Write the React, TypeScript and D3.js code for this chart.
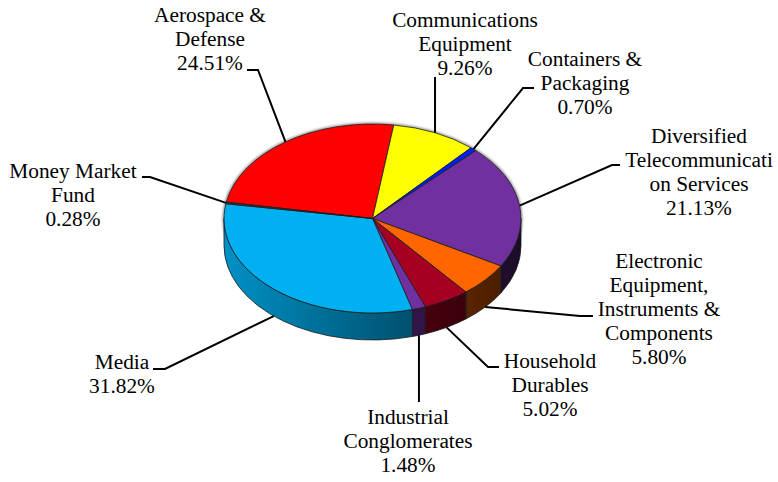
import React from "react";
import * as d3 from "d3";

const categories = [
  "Aerospace & Defense",
  "Communications Equipment",
  "Containers & Packaging",
  "Diversified Telecommunication Services",
  "Electronic Equipment, Instruments & Components",
  "Household Durables",
  "Industrial Conglomerates",
  "Media",
  "Money Market Fund",
];
const labelLines = [
  ["Aerospace &", "Defense"],
  ["Communications", "Equipment"],
  ["Containers &", "Packaging"],
  ["Diversified", "Telecommunicati", "on Services"],
  ["Electronic", "Equipment,", "Instruments &", "Components"],
  ["Household", "Durables"],
  ["Industrial", "Conglomerates"],
  ["Media"],
  ["Money Market", "Fund"],
];
const values = [24.51, 9.26, 0.7, 21.13, 5.8, 5.02, 1.48, 31.82, 0.28];
const colors = [
  "#FF0000",
  "#FFFF00",
  "#0020F0",
  "#7030A0",
  "#FF6600",
  "#A50021",
  "#7030A0",
  "#00B0F0",
  "#3A3A3A",
];

// layout (positions only)
const W = 778;
const H = 482;
const cx = 372.5;
const cy = 218.5;
const rx = 148.5;
const ry = 94.5;
const depth = 27;
const startDeg = 280;
const fontSize = 21.33;
const lineH = 24;
const FONT = '"Liberation Serif", "DejaVu Serif", "Times New Roman", Times, serif';

type LabelLayout = { x: number; y: number; elbow: number[][] | null; vert?: number };
const labelLayout: LabelLayout[] = [
  { x: 210, y: 22, elbow: [[247, 70], [258, 70]] },
  { x: 465, y: 27, elbow: null, vert: 77 },
  { x: 585, y: 66, elbow: [[534, 88], [523, 88]] },
  { x: 699, y: 143, elbow: [[620, 165], [612, 165]] },
  { x: 659, y: 268, elbow: [[593, 316], [580, 316]] },
  { x: 550, y: 368, elbow: [[499, 367], [488, 367]] },
  { x: 408, y: 424, elbow: null, vert: 402 },
  { x: 122, y: 369, elbow: [[153, 369], [165, 369]] },
  { x: 73, y: 178, elbow: [[142, 177], [150, 177]] },
];

const px = (a: number) => cx + rx * Math.sin(a);
const py = (a: number, dy = 0) => cy - ry * Math.cos(a) + dy;

function topPath(a0: number, a1: number) {
  const large = a1 - a0 > Math.PI ? 1 : 0;
  return `M${cx},${cy}L${px(a0)},${py(a0)}A${rx},${ry} 0 ${large} 1 ${px(a1)},${py(a1)}Z`;
}
function sidePath(a0: number, a1: number) {
  return (
    `M${px(a0)},${py(a0)}A${rx},${ry} 0 0 1 ${px(a1)},${py(a1)}` +
    `L${px(a1)},${py(a1, depth)}A${rx},${ry} 0 0 0 ${px(a0)},${py(a0, depth)}Z`
  );
}

export default function App() {
  const start = (startDeg * Math.PI) / 180;
  const pie = d3
    .pie<number>()
    .sort(null)
    .value((d) => d)
    .startAngle(start)
    .endAngle(start + 2 * Math.PI);
  const arcs = pie(values);
  const frontA = 2.5 * Math.PI;
  const frontB = 3.5 * Math.PI;
  const shade = (c: string, t: number) => d3.interpolateRgb(c, "#000")(t);

  return (
    <svg
      width={W}
      height={H}
      style={{ position: "absolute", left: 0, top: 0, background: "#fff" }}
    >
      <defs>
        {arcs.map((a, i) => (
          <linearGradient
            key={i}
            id={`side${i}`}
            gradientUnits="userSpaceOnUse"
            x1={cx - rx}
            x2={cx + rx}
            y1={0}
            y2={0}
          >
            <stop offset="0" stopColor={shade(colors[i], 0.18)} />
            <stop offset="1" stopColor={shade(colors[i], 0.75)} />
          </linearGradient>
        ))}
        <filter id="glow" x="-10%" y="-10%" width="120%" height="120%">
          <feGaussianBlur stdDeviation="1.2" />
        </filter>
      </defs>
      <ellipse cx={cx} cy={cy} rx={rx + 0.5} ry={ry + 0.5} fill="none" stroke="#888" strokeWidth={2} filter="url(#glow)" />
      {arcs.map((a, i) => {
        const s = Math.max(a.startAngle, frontA);
        const e = Math.min(a.endAngle, frontB);
        if (e <= s) return null;
        return (
          <path
            key={`s${i}`}
            d={sidePath(s, e)}
            fill={`url(#side${i})`}
            stroke="#1a1a1a"
            strokeWidth={0.8}
            strokeLinejoin="round"
          />
        );
      })}
      {arcs.map((a, i) => (
        <path
          key={`t${i}`}
          d={topPath(a.startAngle, a.endAngle)}
          fill={colors[i]}
          stroke="#1a1a1a"
          strokeWidth={0.8}
          strokeLinejoin="round"
        />
      ))}
      {arcs.map((a, i) => {
        const mid = (a.startAngle + a.endAngle) / 2;
        const front = Math.cos(mid) < 0;
        const ax = px(mid);
        const ay = py(mid, front ? depth : 0);
        const L = labelLayout[i];
        const pts: number[][] = L.elbow ? [...L.elbow, [ax, ay]] : [[ax, L.vert as number], [ax, ay]];
        return (
          <polyline
            key={`l${i}`}
            points={pts.map((p) => p.join(",")).join(" ")}
            fill="none"
            stroke="#000"
            strokeWidth={2}
          />
        );
      })}
      {labelLines.map((lines, i) => {
        const L = labelLayout[i];
        const all = [...lines, `${values[i].toFixed(2)}%`];
        return (
          <text
            key={`x${i}`}
            x={L.x}
            y={L.y}
            textAnchor="middle"
            style={{ fontFamily: FONT, fontSize: `${fontSize}px` }}
            fill="#000"
          >
            {all.map((t, j) => (
              <tspan key={j} x={L.x} y={L.y + j * lineH}>
                {t}
              </tspan>
            ))}
          </text>
        );
      })}
    </svg>
  );
}
